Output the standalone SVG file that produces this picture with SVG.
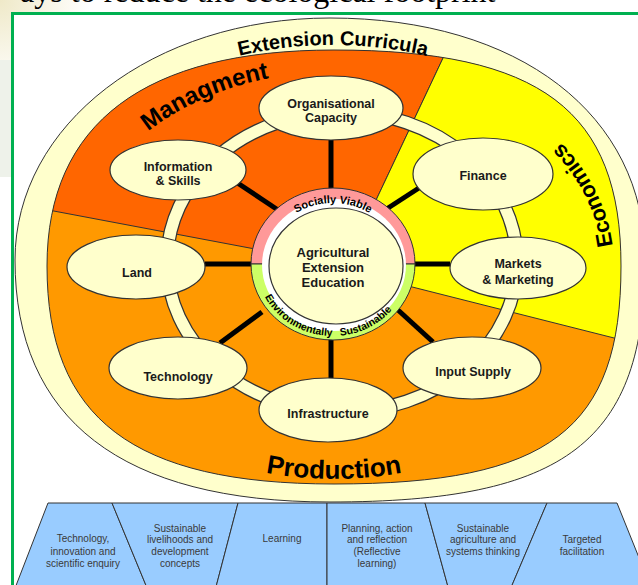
<svg xmlns="http://www.w3.org/2000/svg" width="638" height="585" viewBox="0 0 638 585">
<defs>
<style>
.ln{stroke:#333;stroke-width:1;fill:none}
.node{fill:#ffffcc;stroke:#333;stroke-width:1.2}
.nt{font-family:"Liberation Sans",Arial,sans-serif;font-weight:bold;font-size:12.5px;fill:#1a1a1a;text-anchor:middle}
.big{font-family:"Liberation Sans",Arial,sans-serif;font-weight:bold;fill:#000;text-anchor:middle}
.sm{font-family:"Liberation Sans",Arial,sans-serif;font-size:10px;fill:#3a3a3a;text-anchor:middle}
.spoke{stroke:#000;stroke-width:5;fill:none}
.trap{fill:#99ccff;stroke:#333;stroke-width:1}
</style>
<radialGradient id="bgGlow" cx="0" cy="0" r="90" gradientUnits="userSpaceOnUse">
<stop offset="0" stop-color="#efe9c8"/>
<stop offset="1" stop-color="#ffffff"/>
</radialGradient>
<clipPath id="topClip"><rect x="18" y="0" width="620" height="12"/></clipPath>
<path id="ringShape" d="M47,266 C47,123.4 144.6,50 334,50 C540.6,50 621,110.5 621,266 C621,429.5 549,484 334,484 C133.1,484 47,418.6 47,266 Z"/>
<clipPath id="ringClip"><use href="#ringShape"/></clipPath>
<path id="pExt" d="M154,88.4 A298,217 0 0 1 512,88.4"/>
<path id="pMan" d="M76,266 A258,194 0 0 1 334,72"/>
<path id="pEco" d="M576.5,371.5 A280,211 0 0 0 474,83.3"/>
<path id="pPro" d="M89,372.5 A283,213 0 0 0 579,372.5"/>
<path id="pSoc" d="M266,265 A67,62 0 0 1 400,265"/>
<path id="pEnv" d="M257,265 A76,71 0 0 0 409,265"/>
</defs>
<rect x="0" y="0" width="638" height="585" fill="#ffffff"/>
<rect x="0" y="0" width="120" height="60" fill="url(#bgGlow)"/>
<rect x="0" y="60" width="11" height="117" fill="#eef2ea"/>
<text x="-3" y="1.5" clip-path="url(#topClip)" style="font-family:'Liberation Serif','Times New Roman',serif;font-size:32px;fill:#000">ways to reduce the ecological footprint</text>
<rect x="12.5" y="13.5" width="700" height="700" fill="#ffffff" stroke="#00b050" stroke-width="3"/>

<g id="background-rings">
<path d="M15,260 C15,124.5 153.6,18 330,18 C519,18 645,114.8 645,260 C645,441.5 566,502 330,502 C122,502 15,419.7 15,260 Z" fill="#ffffcc" stroke="#333" stroke-width="1"/>
<use href="#ringShape" fill="#ff9900"/>
<g clip-path="url(#ringClip)">
<polygon points="345,266 -100,182 -100,-100 517.5,-100" fill="#ff6600" stroke="#333" stroke-width="1"/>
<polygon points="345,266 517.5,-100 800,-100 800,385 345,270" fill="#ffff00" stroke="#333" stroke-width="1"/>
</g>
<use href="#ringShape" class="ln"/>
</g>

<g id="track">
<ellipse cx="342" cy="262" rx="175" ry="150" fill="none" stroke="#333" stroke-width="14"/>
<ellipse cx="342" cy="262" rx="175" ry="150" fill="none" stroke="#ffffcc" stroke-width="11.5"/>
</g>

<g id="connectors">
<line class="spoke" x1="331" y1="140" x2="331" y2="192"/>
<line class="spoke" x1="236" y1="182" x2="278" y2="210"/>
<line class="spoke" x1="422" y1="186" x2="385" y2="210"/>
<line class="spoke" x1="450" y1="264" x2="413" y2="264"/>
<line class="spoke" x1="205" y1="264" x2="253" y2="264"/>
<line class="spoke" x1="220" y1="343" x2="262" y2="312"/>
<line class="spoke" x1="331" y1="378" x2="331" y2="338"/>
<line class="spoke" x1="433" y1="342" x2="398" y2="310"/>
</g>

<g id="center">
<path d="M251,264 A82,76 0 0 1 415,264 Z" fill="#ff9999" stroke="#333" stroke-width="1"/>
<path d="M251,264 A82,76 0 0 0 415,264 Z" fill="#ccff66" stroke="#333" stroke-width="1"/>
<ellipse cx="334" cy="265" rx="72" ry="66" fill="#ffffff"/>
<ellipse cx="336" cy="266" rx="67" ry="58" fill="#ffffcc" stroke="#333" stroke-width="1.2"/>
<text class="nt" style="font-size:13px"><tspan x="333" y="256.5">Agricultural</tspan><tspan x="333" y="271.5">Extension</tspan><tspan x="333" y="286.5">Education</tspan></text>
<text class="big" style="font-size:11px"><textPath href="#pSoc" startOffset="50%">Socially Viable</textPath></text>
<text class="big" style="font-size:10.5px"><textPath href="#pEnv" startOffset="32%">Environmentally</textPath></text>
<text class="big" style="font-size:10.5px"><textPath href="#pEnv" startOffset="66%">Sustainable</textPath></text>
</g>

<g id="node-org">
<ellipse class="node" cx="331" cy="108" rx="72" ry="32"/>
<text class="nt"><tspan x="331" y="107.5">Organisational</tspan><tspan x="331" y="121.5">Capacity</tspan></text>
</g>
<g id="node-info">
<ellipse class="node" cx="178" cy="170" rx="68" ry="30"/>
<text class="nt"><tspan x="178" y="170.5">Information</tspan><tspan x="178" y="184.5">&amp; Skills</tspan></text>
</g>
<g id="node-finance">
<ellipse class="node" cx="483" cy="174" rx="70" ry="36"/>
<text class="nt" x="483" y="179.5">Finance</text>
</g>
<g id="node-markets">
<ellipse class="node" cx="518" cy="268" rx="68" ry="31"/>
<text class="nt"><tspan x="518" y="267.5">Markets</tspan><tspan x="518" y="283.5">&amp; Marketing</tspan></text>
</g>
<g id="node-land">
<ellipse class="node" cx="136" cy="267" rx="69" ry="32"/>
<text class="nt" x="137" y="276.5">Land</text>
</g>
<g id="node-technology">
<ellipse class="node" cx="178" cy="368" rx="69" ry="31"/>
<text class="nt" x="178" y="380.5">Technology</text>
</g>
<g id="node-infrastructure">
<ellipse class="node" cx="328" cy="410" rx="69" ry="32"/>
<text class="nt" x="328" y="417.5">Infrastructure</text>
</g>
<g id="node-input">
<ellipse class="node" cx="472" cy="368" rx="69" ry="31"/>
<text class="nt" x="473" y="375.5">Input Supply</text>
</g>

<g id="ring-labels">
<text class="big" style="font-size:20px"><textPath href="#pExt" startOffset="50%">Extension Curricula</textPath></text>
<text class="big" style="font-size:24px"><textPath href="#pMan" startOffset="63%">Managment</textPath></text>
<text class="big" style="font-size:22px"><textPath href="#pEco" startOffset="54%">Economics</textPath></text>
<text class="big" style="font-size:26px"><textPath href="#pPro" startOffset="50%">Production</textPath></text>
</g>

<g id="bottom-band">
<g id="b1"><polygon class="trap" points="48,503 112,503 147.9,590 14.3,590"/>
<text class="sm"><tspan x="83" y="541.5">Technology,</tspan><tspan x="83" y="554.5">innovation and</tspan><tspan x="83" y="566.5">scientific enquiry</tspan></text></g>
<g id="b2"><polygon class="trap" points="112,503 238,503 215.2,590 147.9,590"/>
<text class="sm"><tspan x="180" y="531.5">Sustainable</tspan><tspan x="180" y="543">livelihoods and</tspan><tspan x="180" y="554.5">development</tspan><tspan x="180" y="566.5">concepts</tspan></text></g>
<g id="b3"><polygon class="trap" points="238,503 327,503 327,590 215.2,590"/>
<text class="sm" x="282" y="541.5">Learning</text></g>
<g id="b4"><polygon class="trap" points="327,503 425,503 448.9,590 327,590"/>
<text class="sm"><tspan x="377" y="531.5">Planning, action</tspan><tspan x="377" y="543">and reflection</tspan><tspan x="377" y="555">(Reflective</tspan><tspan x="377" y="567">learning)</tspan></text></g>
<g id="b5"><polygon class="trap" points="425,503 547,503 510,590 448.9,590"/>
<text class="sm"><tspan x="483" y="531.5">Sustainable</tspan><tspan x="483" y="543">agriculture and</tspan><tspan x="483" y="554.5">systems thinking</tspan></text></g>
<g id="b6"><polygon class="trap" points="547,503 617,503 652,590 510,590"/>
<text class="sm"><tspan x="582" y="542.5">Targeted</tspan><tspan x="582" y="554.5">facilitation</tspan></text></g>
</g>
</svg>
